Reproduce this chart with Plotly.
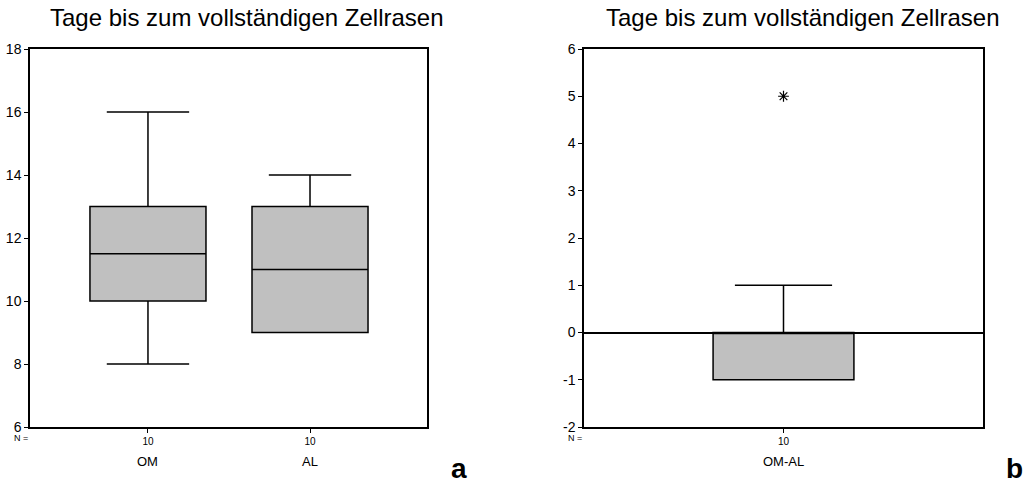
import plotly.graph_objects as go

# ---- data ----
groups_a = ["OM", "AL"]
n_a = [10, 10]
lower_a = [8, 9]
q1_a = [10, 9]
median_a = [11.5, 11]
q3_a = [13, 13]
upper_a = [16, 14]

groups_b = ["OM-AL"]
n_b = [10]
lower_b = [-1]
q1_b = [-1]
median_b = [0]
q3_b = [0]
upper_b = [1]
outliers_b = [5]

yticks_a = [6, 8, 10, 12, 14, 16, 18]
yticks_b = [-2, -1, 0, 1, 2, 3, 4, 5, 6]
title_text = "Tage bis zum vollständigen Zellrasen"

FONT = "Liberation Sans, Arial, sans-serif"
W, H = 1029, 488

fig = go.Figure()

pos_a = list(range(len(groups_a)))
fig.add_trace(go.Box(
    x=pos_a, q1=q1_a, median=median_a, q3=q3_a,
    lowerfence=lower_a, upperfence=upper_a,
    fillcolor="#c0c0c0", line=dict(color="black", width=1.5),
    width=0.716, whiskerwidth=0.71, boxpoints=False,
    xaxis="x", yaxis="y", showlegend=False, hoverinfo="skip",
))

pos_b = list(range(len(groups_b)))
fig.add_trace(go.Box(
    x=pos_b, q1=q1_b, median=median_b, q3=q3_b,
    lowerfence=lower_b, upperfence=upper_b,
    fillcolor="#c0c0c0", line=dict(color="black", width=1.5),
    width=0.353, whiskerwidth=0.69, boxpoints=False,
    xaxis="x2", yaxis="y2", showlegend=False, hoverinfo="skip",
))
fig.add_trace(go.Scatter(
    x=[pos_b[0]] * len(outliers_b), y=outliers_b, mode="markers",
    marker=dict(symbol="asterisk-open", size=9, color="black",
                line=dict(color="black", width=1.2)),
    xaxis="x2", yaxis="y2", showlegend=False, hoverinfo="skip",
))

ydom = [1 - 427 / H, 1 - 49 / H]
dom_a = [30 / W, 427 / W]
dom_b = [584 / W, 983 / W]

axcommon = dict(showline=True, linecolor="black", linewidth=1.5, mirror=True,
                showgrid=False, ticks="outside", ticklen=4, tickcolor="black",
                tickwidth=1, automargin=False)

fig.update_layout(
    width=W, height=H, margin=dict(l=0, r=0, t=0, b=0),
    paper_bgcolor="white", plot_bgcolor="white",
    font=dict(family=FONT, color="black"),
    xaxis=dict(domain=dom_a, range=[-0.728, 1.722], tickvals=pos_a,
               ticktext=[str(v) for v in n_a], tickfont=dict(size=10),
               zeroline=False, **axcommon),
    yaxis=dict(domain=ydom, range=[6, 18], tickvals=yticks_a,
               ticktext=[str(v) for v in yticks_a],
               tickfont=dict(size=14), zeroline=False, anchor="x", **axcommon),
    xaxis2=dict(domain=dom_b, range=[-0.5, 0.5], tickvals=pos_b,
                ticktext=[str(v) for v in n_b], tickfont=dict(size=10),
                zeroline=False, anchor="y2", **axcommon),
    yaxis2=dict(domain=ydom, range=[-2, 6], tickvals=yticks_b,
                ticktext=[str(v) for v in yticks_b],
                tickfont=dict(size=14), zeroline=True, zerolinecolor="black",
                zerolinewidth=1.5, anchor="x2", **axcommon),
)

ann = []
# titles
ann.append(dict(text=title_text, x=247 / W, y=1 - 18 / H, xref="paper", yref="paper",
                showarrow=False, font=dict(size=24), xanchor="center", yanchor="middle"))
ann.append(dict(text=title_text, x=803 / W, y=1 - 18 / H, xref="paper", yref="paper",
                showarrow=False, font=dict(size=24), xanchor="center", yanchor="middle"))
# N = labels
ann.append(dict(text="N =", x=30 / W, y=1 - 438 / H, xref="paper", yref="paper",
                showarrow=False, font=dict(size=9), xanchor="right", yanchor="middle"))
ann.append(dict(text="N =", x=584 / W, y=1 - 438 / H, xref="paper", yref="paper",
                showarrow=False, font=dict(size=9), xanchor="right", yanchor="middle"))
# category names
for p, g in zip(pos_a, groups_a):
    ann.append(dict(text=g, x=p, y=1 - 461 / H, xref="x", yref="paper",
                    showarrow=False, font=dict(size=13), xanchor="center", yanchor="middle"))
for p, g in zip(pos_b, groups_b):
    ann.append(dict(text=g, x=p, y=1 - 461 / H, xref="x2", yref="paper",
                    showarrow=False, font=dict(size=13), xanchor="center", yanchor="middle"))
# panel letters
ann.append(dict(text="<b>a</b>", x=459 / W, y=1 - 468 / H, xref="paper", yref="paper",
                showarrow=False, font=dict(size=28), xanchor="center", yanchor="middle"))
ann.append(dict(text="<b>b</b>", x=1014 / W, y=1 - 468 / H, xref="paper", yref="paper",
                showarrow=False, font=dict(size=28), xanchor="center", yanchor="middle"))
fig.update_layout(annotations=ann)

fig.write_html("out.html")
